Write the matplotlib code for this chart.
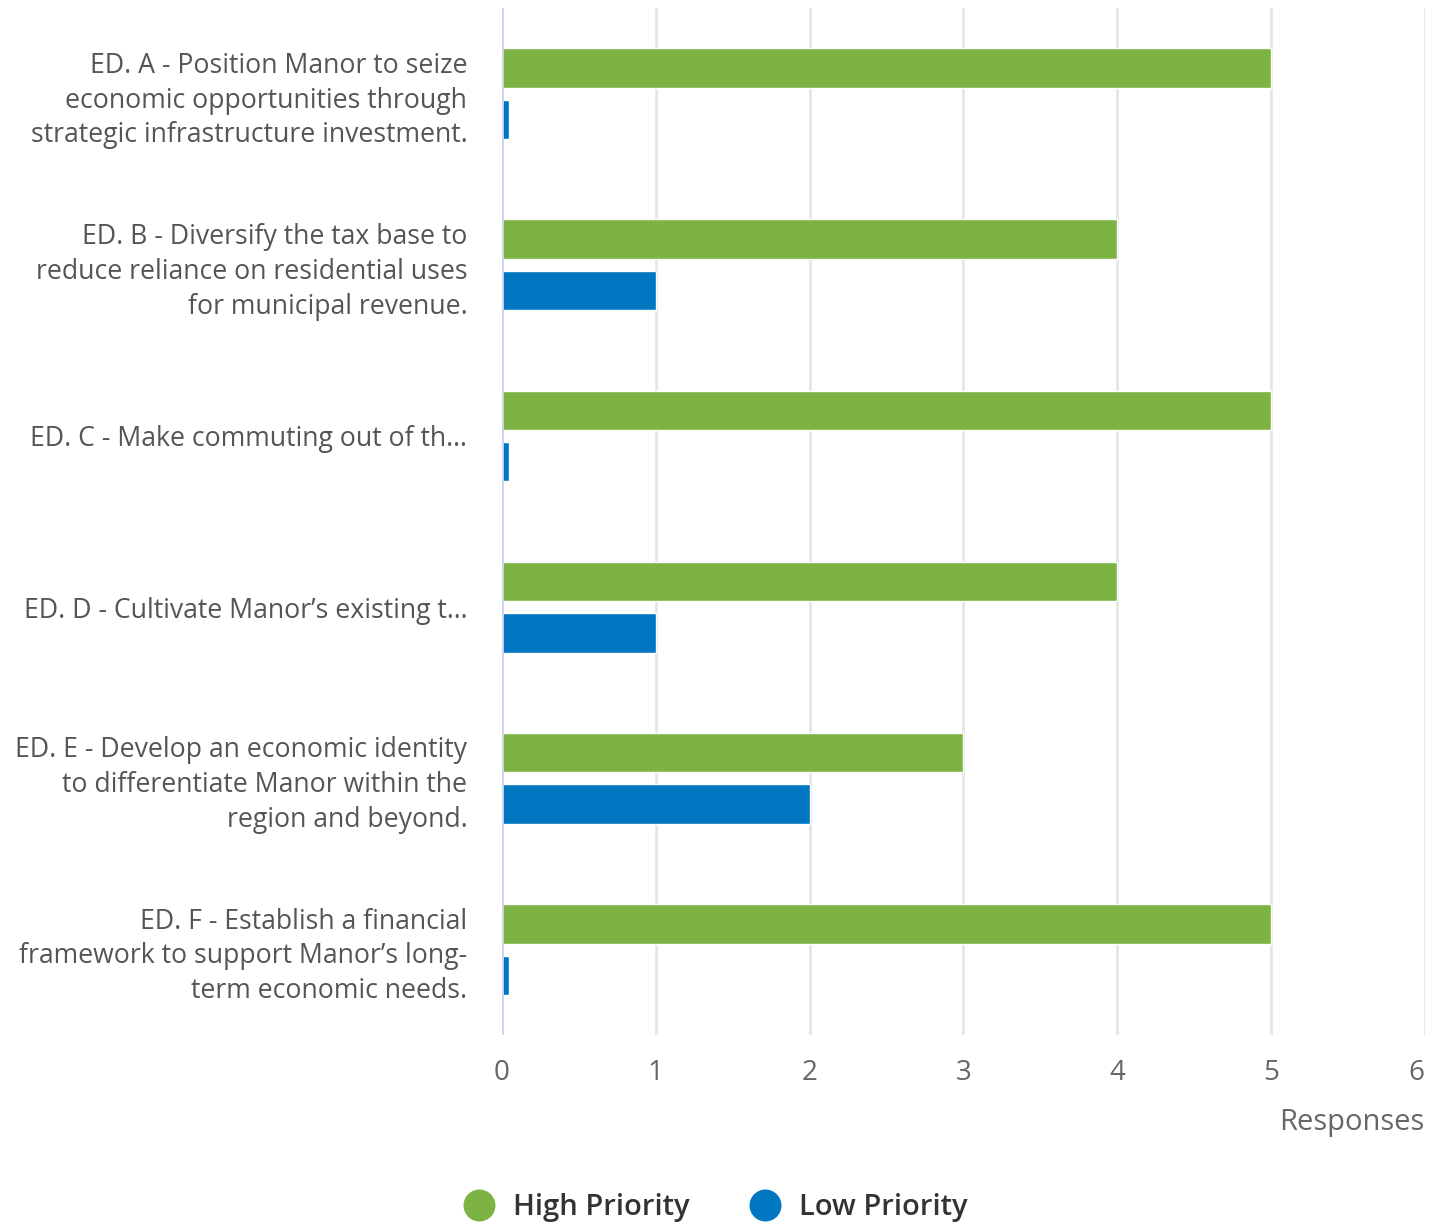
"""Horizontal grouped bar chart — ED priorities by response count."""

import matplotlib.pyplot as plt
import numpy as np
from matplotlib.lines import Line2D

plt.rcParams["font.family"] = ["Open Sans", "DejaVu Sans"]

categories = [
    "ED. A - Position Manor to seize\neconomic opportunities through\nstrategic infrastructure investment.",
    "ED. B - Diversify the tax base to\nreduce reliance on residential uses\nfor municipal revenue.",
    "ED. C - Make commuting out of th…",
    "ED. D - Cultivate Manor\u2019s existing t…",
    "ED. E - Develop an economic identity\nto differentiate Manor within the\nregion and beyond.",
    "ED. F - Establish a financial\nframework to support Manor\u2019s long-\nterm economic needs.",
]
high_priority = [5, 4, 5, 4, 3, 5]
low_priority = [0, 1, 0, 1, 2, 0]
series_names = ["High Priority", "Low Priority"]
x_ticks = [0, 1, 2, 3, 4, 5, 6]

GREEN = "#7cb342"
BLUE = "#0077c0"
MIN_LEN = 0.045  # zero values still get a visible stub

fig = plt.figure(figsize=(14.29, 12.25), dpi=100)
ax = fig.add_axes([0.3513, 0.155, 0.6457, 0.8385])

y = np.arange(len(categories))
bar_h = 0.23
offset = 0.15

for vals, color, dy in [(high_priority, GREEN, -offset), (low_priority, BLUE, offset)]:
    widths = np.maximum(np.asarray(vals, dtype=float), MIN_LEN)
    ax.barh(y + dy, widths, height=bar_h, color=color, edgecolor="white",
            linewidth=1, zorder=3)

ax.set_xlim(0, 6)
ax.set_ylim(len(categories) - 0.5, -0.5)
ax.set_xticks(x_ticks)
ax.set_xticklabels([str(t) for t in x_ticks])
ax.set_yticks(y)
ax.set_yticklabels(categories)

ax.grid(axis="x", color="#e6e6e6", linewidth=2, zorder=0)
ax.axvline(0, color="#ccd6eb", linewidth=2, zorder=4)
for side in ["top", "right", "bottom", "left"]:
    ax.spines[side].set_visible(False)

ax.tick_params(axis="x", length=0, pad=17, labelsize=20, labelcolor="#666666")
ax.tick_params(axis="y", length=0, pad=25, labelsize=19.2, labelcolor="#555555")
for lbl in ax.get_yticklabels():
    lbl.set_multialignment("right")
    lbl.set_linespacing(1.33)
# keep the last tick label inside the figure
ax.get_xticklabels()[-1].set_horizontalalignment("right")

fig.text(0.997, 0.084, "Responses", ha="right", va="center", fontsize=21,
         color="#666666")

handles = [
    Line2D([], [], marker="o", linestyle="", markersize=22, color=GREEN),
    Line2D([], [], marker="o", linestyle="", markersize=22, color=BLUE),
]
leg = fig.legend(handles, series_names, loc="center", bbox_to_anchor=(0.5, 0.0145),
                 ncol=2, frameon=False, fontsize=21, handletextpad=0.55,
                 columnspacing=2.0, handlelength=1.2)
for txt in leg.get_texts():
    txt.set_color("#333333")
    txt.set_fontweight("semibold")

fig.savefig("out.png", dpi=100)
